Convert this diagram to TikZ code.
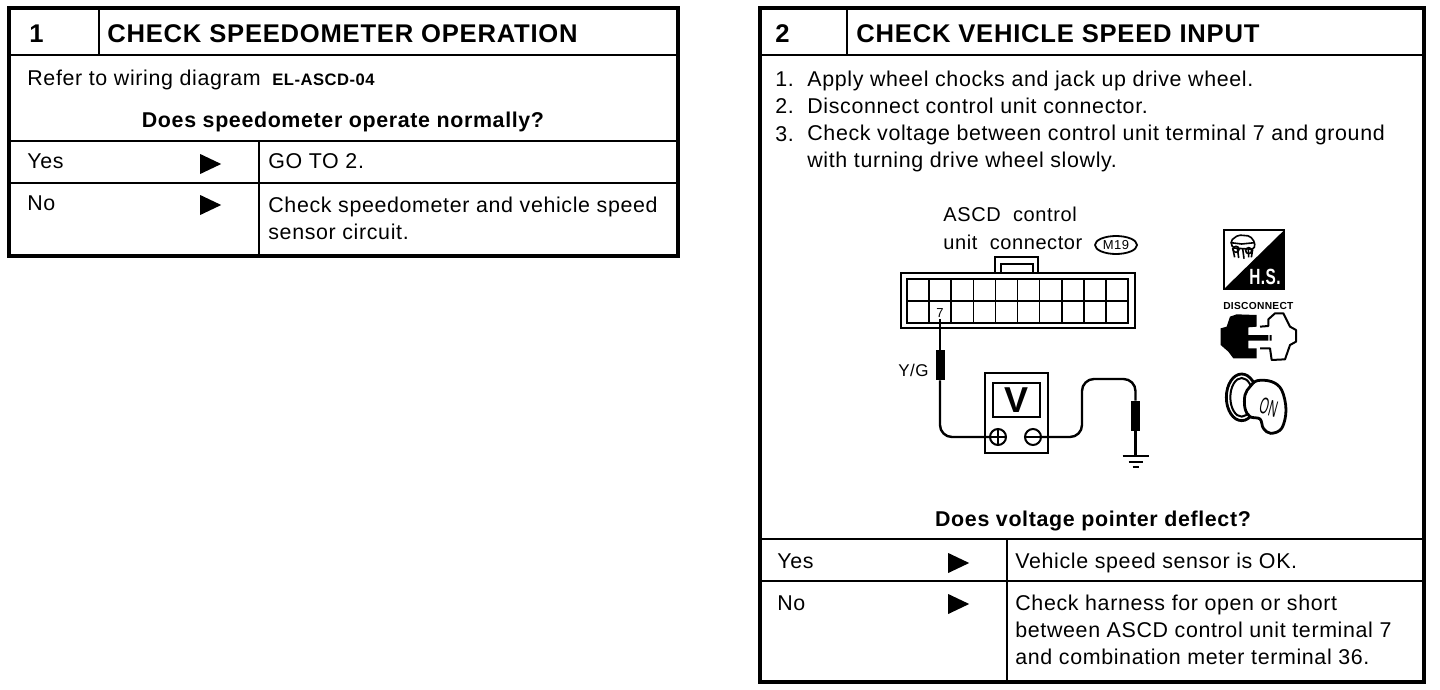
\documentclass[tikz,border=0pt]{standalone}
\usepackage{fontspec}
\setmainfont{Liberation Sans}[LetterSpace=3]
\usetikzlibrary{arrows.meta, positioning, calc, fit, shapes.geometric}
\newcommand{\txtfont}{\fontsize{10.7}{13.5}\selectfont}

\begin{document}
\begin{tikzpicture}[
  x=0.5pt, y=-0.5pt,
  cell/.style={draw, line width=0.8pt, inner sep=0pt, outer sep=0pt},
  frame/.style={draw, line width=2pt, inner sep=0pt},
  txt/.style={anchor=base west, inner sep=0pt, font=\txtfont, align=left},
  ttl/.style={anchor=base west, inner sep=0pt, font=\fontsize{12.8}{15}\selectfont\bfseries},
  ask/.style={anchor=base, inner sep=0pt, font=\txtfont\bfseries},
  tri/.style={isosceles triangle, isosceles triangle stretches, fill=black, inner sep=0pt,
              minimum width=10pt, minimum height=10.5pt},
  wire/.style={line width=1.2pt, rounded corners=6pt},
  probe/.style={fill=black, inner sep=0pt, minimum width=4.5pt, minimum height=15pt},
  term/.style={circle, draw, line width=1pt, fill=white, inner sep=0pt, minimum size=8pt},
]
  \useasboundingbox (0,0) rectangle (1440,690);

  % box 1
  \node[cell, anchor=north west, minimum width=45pt, minimum height=23.5pt] (num1) at (9,8) {};
  \node[cell, right=0pt of num1, minimum width=289.5pt, minimum height=23.5pt] (head1) {};
  \node[cell, below=0pt of num1.south west, anchor=north west, minimum width=334.5pt, minimum height=43pt] (body1) {};
  \node[cell, below=0pt of body1.south west, anchor=north west, minimum width=125pt, minimum height=21pt] (yes1) {};
  \node[cell, right=0pt of yes1, minimum width=209.5pt, minimum height=21pt] (go1) {};
  \node[cell, below=0pt of yes1.south west, anchor=north west, minimum width=125pt, minimum height=36.5pt] (no1) {};
  \node[cell, right=0pt of no1, minimum width=209.5pt, minimum height=36.5pt] (chk1) {};
  \node[frame, fit=(num1.north west)(chk1.south east)] (frame1) {};

  \node[ttl] (n1) at (29,43) {1};
  \node[ttl] (t1) at (107,43) {CHECK SPEEDOMETER OPERATION};
  \node[txt] (refer) at (27,86) {Refer to wiring diagram};
  \node[anchor=base west, inner sep=0pt, font=\fontsize{8.3}{9}\selectfont\bfseries] (elref) at (272,86) {EL-ASCD-04};
  \node[ask] (q1) at (343,127) {Does speedometer operate normally?};
  \node[txt] (y1) at (27,169) {Yes};
  \node[tri] (ay1) at (206.5,164) {};
  \node[txt] (g1) at (268,169) {GO TO 2.};
  \node[txt] (m1) at (27,210) {No};
  \node[tri] (am1) at (206.5,205) {};
  \node[txt] (c1) at (268,239) {Check speedometer and vehicle speed\\sensor circuit.};

  % box 2
  \node[cell, anchor=north west, minimum width=43.5pt, minimum height=23.5pt] (num2) at (760,8) {};
  \node[cell, right=0pt of num2, minimum width=288.5pt, minimum height=23.5pt] (head2) {};
  \node[cell, below=0pt of num2.south west, anchor=north west, minimum width=332pt, minimum height=242pt] (body2) {};
  \node[cell, below=0pt of body2.south west, anchor=north west, minimum width=123.5pt, minimum height=21pt] (yes2) {};
  \node[cell, right=0pt of yes2, minimum width=208.5pt, minimum height=21pt] (ok2) {};
  \node[cell, below=0pt of yes2.south west, anchor=north west, minimum width=123.5pt, minimum height=50.5pt] (no2) {};
  \node[cell, right=0pt of no2, minimum width=208.5pt, minimum height=50.5pt] (chk2) {};
  \node[frame, fit=(num2.north west)(chk2.south east)] (frame2) {};

  \node[ttl] (n2) at (775,43) {2};
  \node[ttl] (t2) at (856,43) {CHECK VEHICLE SPEED INPUT};
  \node[txt] (s1n) at (775,87) {1.};
  \node[txt] (s1) at (807,87) {Apply wheel chocks and jack up drive wheel.};
  \node[txt] (s2n) at (775,114) {2.};
  \node[txt] (s2) at (807,114) {Disconnect control unit connector.};
  \node[txt] (s3n) at (775,141) {3.};
  \node[txt] (s3) at (807,168) {Check voltage between control unit terminal 7 and ground\\with turning drive wheel slowly.};
  \node[ask] (q2) at (1093,526) {Does voltage pointer deflect?};
  \node[txt] (y2) at (777,568) {Yes};
  \node[tri] (ay2) at (954.5,563) {};
  \node[txt] (g2) at (1015,568) {Vehicle speed sensor is OK.};
  \node[txt] (m2) at (777,610) {No};
  \node[tri] (am2) at (954.5,604) {};
  \node[txt] (c2) at (1015,664) {Check harness for open or short\\between ASCD control unit terminal 7\\and combination meter terminal 36.};

  % connector
  \node[txt, font={\fontsize{10}{13.5}\selectfont}] (lab) at (943,249) {ASCD\ \ control\\unit\ \ connector};
  \node[ellipse, draw, line width=0.9pt, inner sep=0pt, minimum width=21pt, minimum height=9pt,
        font=\fontsize{6.5}{7}\selectfont] (m19) at (1116,245) {M19};
  \draw[line width=1pt] (901,273) rectangle (1135,328);
  \draw[line width=1pt] (995,273) -- (995,257) -- (1038,257) -- (1038,273);
  \draw[line width=0.7pt] (1001,264) rectangle (1033,273);
  \draw[line width=1.2pt] (907,279) rectangle (1128,323);
  \draw[line width=0.8pt] (907,301) -- (1128,301);
  \foreach \i in {1,...,9} \draw[line width=0.8pt] (907+22.1*\i,279) -- (907+22.1*\i,323);
  \node[fill=white, inner sep=0.5pt, font=\fontsize{6.5}{7}\selectfont] (pin7) at (940,313) {7};

  % meter and leads
  \node[anchor=east, inner sep=0pt, font=\fontsize{8.5}{9}\selectfont] (yg) at (929,370) {Y/G};
  \node[cell, line width=1pt, minimum width=31.5pt, minimum height=40pt] (meter) at (1016.5,413) {};
  \node[cell, line width=1.2pt, minimum width=23.5pt, minimum height=17pt, font=\fontsize{18}{20}\selectfont\bfseries] (disp) at (1016.5,400) {V};
  \node[term] (plus) at (998,437) {};
  \node[term] (minus) at (1033,437) {};
  \draw[line width=1pt] (plus.west) -- (plus.east) (plus.north) -- (plus.south) (minus.west) -- (minus.east);
  \node[probe] (py) at (940,365) {};
  \node[probe] (pg) at (1135.5,416) {};
  \coordinate (bend) at (1082,379);
  \coordinate (gnd) at (1135.5,456);
  \draw[wire] (pin7.south) -- (py.north);
  \draw[wire] (py.south) |- (plus.west);
  \draw[wire] (minus.east) -| (bend) -| (pg.north);
  \draw[wire] (pg.south) -- (gnd);
  \draw[line width=1.2pt] ($(gnd)+(-13,0)$) -- ($(gnd)+(13,0)$);
  \draw[line width=1.2pt] ($(gnd)+(-7,6)$) -- ($(gnd)+(7,6)$);
  \draw[line width=1.2pt] ($(gnd)+(-3,11)$) -- ($(gnd)+(3,11)$);

  % icons
  \begin{scope}[shift={(1200,220)}, scale=1/3]
    \draw[line width=1pt] (72,30) rectangle (253,207);
    \fill (253,30) -- (253,207) -- (72,207) -- cycle;
    \draw[line width=0.8pt, fill=white, rounded corners=1pt] (92,62) -- (115,45) -- (150,48) -- (165,68) -- (162,88) -- (98,84) -- cycle;
    \draw[line width=0.8pt] (98,84) -- (104,112) (112,84) -- (116,114) (128,86) -- (132,116) (145,86) -- (146,112) (158,88) -- (154,112) (92,68) -- (125,72) -- (165,68);
    \draw[line width=0.8pt] (108,88) circle (9) (146,92) circle (9);
    \node[text=white, inner sep=0pt, font=\fontsize{11}{12}\selectfont\bfseries] (hs) at (195,170) {\scalebox{0.7}[1]{H.S.}};
    \node[inner sep=0pt, font=\fontsize{5.1}{6}\selectfont\bfseries] (disc) at (175,258) {DISCONNECT};
    \fill (62,325) -- (80,320) -- (90,290) -- (110,283) -- (170,285) -- (170,320) -- (145,322) -- (145,345) -- (205,345) -- (205,362) -- (145,362) -- (145,385) -- (170,385) -- (170,415) -- (100,415) -- (85,395) -- (62,375) -- cycle;
    \draw[line width=1pt, line join=round] (180,320) -- (205,318) -- (205,298) -- (225,280) -- (250,280) -- (270,320) -- (288,330) -- (288,365) -- (270,375) -- (255,418) -- (215,420) -- (210,385) -- (180,385) (212,345) -- (212,362);
    \draw[line width=1.4pt] (125,532) ellipse [x radius=46, y radius=70];
    \draw[line width=1pt] (125,532) ellipse [x radius=34, y radius=58];
    \draw[line width=1.4pt, fill=white] plot[smooth cycle, tension=0.6] coordinates {(135,525) (150,500) (172,482) (215,485) (245,510) (258,570) (245,625) (212,640) (190,625) (180,597) (150,590) (135,565)};
    \node[rotate=-15, inner sep=0pt, font=\fontsize{11.5}{12}\selectfont] (on) at (206,562) {\scalebox{0.5}[1]{ON}};
  \end{scope}
\end{tikzpicture}
\end{document}
